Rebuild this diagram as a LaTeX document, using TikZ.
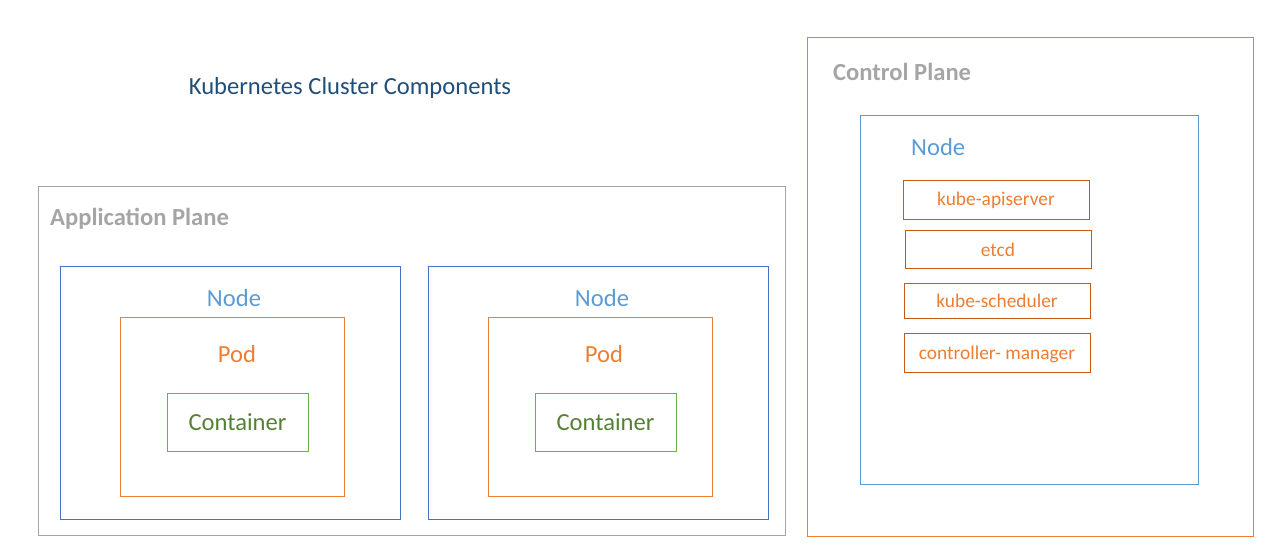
\documentclass[tikz,border=0pt]{standalone}
\usepackage{fontspec}
\setmainfont{Carlito}
\definecolor{titleblue}{HTML}{1F4E79}
\definecolor{planegrey}{HTML}{A5A5A5}
\definecolor{nodeblue}{HTML}{4472C4}
\definecolor{lightblue}{HTML}{5B9BD5}
\definecolor{podorange}{HTML}{ED7D31}
\definecolor{darkorange}{HTML}{C55A11}
\definecolor{contgreen}{HTML}{70AD47}
\definecolor{darkgreen}{HTML}{548235}
\tikzset{
  frame/.style={draw, line width=1pt, anchor=north west, inner sep=0pt, fill=none},
  big/.style={font=\fontsize{24.6}{29}\selectfont, inner sep=0pt, anchor=base},
  bigb/.style={font=\fontsize{24.6}{29}\selectfont\bfseries, inner sep=0pt, anchor=base west, text=planegrey},
  small/.style={font=\fontsize{19.4}{23}\selectfont, inner sep=0pt, anchor=base, text=podorange},
}
\begin{document}
\begin{tikzpicture}[x=1pt,y=-1pt]
\useasboundingbox (0,0) rectangle (1275,554);
% title
\node[big, text=titleblue] (title) at (350,94) {Kubernetes Cluster Components};
% application plane
\node[frame, draw=planegrey, minimum width=747pt, minimum height=349pt] (app) at (38,186) {};
\node[bigb] (applabel) at (50,225) {Application Plane};
% node 1
\node[frame, draw=nodeblue, minimum width=340pt, minimum height=253pt] (n1) at (60,266) {};
\node[big, text=lightblue] (n1l) at (234,306) {Node};
\node[frame, draw=podorange, minimum width=224pt, minimum height=179pt] (p1) at (120,317) {};
\node[big, text=podorange] (p1l) at (237,362) {Pod};
\node[frame, draw=contgreen, minimum width=141pt, minimum height=58pt] (c1) at (167,393) {};
\node[big, text=darkgreen] (c1l) at (237.5,430) {Container};
% node 2
\node[frame, draw=nodeblue, minimum width=340pt, minimum height=253pt] (n2) at (428,266) {};
\node[big, text=lightblue] (n2l) at (602,306) {Node};
\node[frame, draw=podorange, minimum width=224pt, minimum height=179pt] (p2) at (488,317) {};
\node[big, text=podorange] (p2l) at (604,362) {Pod};
\node[frame, draw=contgreen, minimum width=141pt, minimum height=58pt] (c2) at (535,393) {};
\node[big, text=darkgreen] (c2l) at (605.5,430) {Container};
% control plane
\node[frame, draw=podorange, minimum width=446pt, minimum height=499pt] (cp) at (807,37) {};
\node[bigb] (cplabel) at (833,80) {Control Plane};
\node[frame, draw=lightblue, minimum width=338pt, minimum height=369pt] (cn) at (860,115) {};
\node[big, anchor=base west, text=lightblue] (cnl) at (911,155) {Node};
% components
\node[frame, draw=darkorange, minimum width=186pt, minimum height=39pt] (k1) at (903,180) {};
\node[small] (k1l) at (996,205) {kube-apiserver};
\node[frame, draw=darkorange, minimum width=186pt, minimum height=38pt] (k2) at (905,230) {};
\node[small] (k2l) at (998,256) {etcd};
\node[frame, draw=darkorange, minimum width=186pt, minimum height=35pt] (k3) at (904,283) {};
\node[small] (k3l) at (997,307) {kube-scheduler};
\node[frame, draw=darkorange, minimum width=186pt, minimum height=39pt] (k4) at (904,333) {};
\node[small] (k4l) at (997,359) {controller- manager};
\end{tikzpicture}
\end{document}
